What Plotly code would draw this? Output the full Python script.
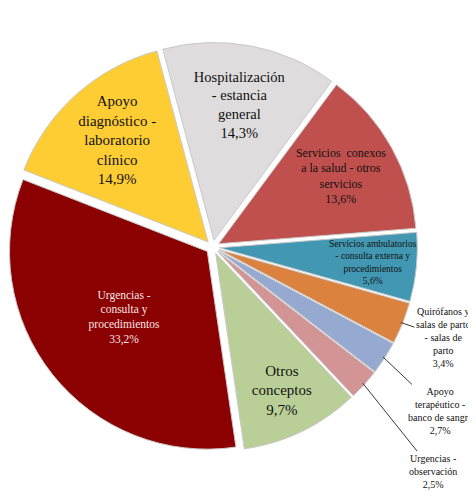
import math
import plotly.graph_objects as go

# Data (clockwise order, starting with Hospitalización)
categories = [
    "Hospitalización - estancia general",
    "Servicios conexos a la salud - otros servicios",
    "Servicios ambulatorios - consulta externa y procedimientos",
    "Quirófanos y salas de parto - salas de parto",
    "Apoyo terapéutico - banco de sangre",
    "Urgencias - observación",
    "Otros conceptos",
    "Urgencias - consulta y procedimientos",
    "Apoyo diagnóstico - laboratorio clínico",
]
label_lines = [
    "Hospitalización<br>- estancia<br>general",
    "Servicios  conexos<br>a la salud - otros<br>servicios",
    "Servicios ambulatorios<br>- consulta externa y<br>procedimientos",
    "Quirófanos y<br>salas de parto<br>- salas de<br>parto",
    "Apoyo<br>terapéutico -<br>banco de sangre",
    "Urgencias -<br>observación",
    "Otros<br>conceptos",
    "Urgencias -<br>consulta y<br>procedimientos",
    "Apoyo<br>diagnóstico -<br>laboratorio<br>clínico",
]
shares = [14.3, 13.6, 5.6, 3.4, 2.7, 2.5, 9.7, 33.2, 14.9]

# Styling
colors = ["#DEDCDC", "#C0504D", "#4298B3", "#DA823E", "#95A9D1",
          "#D29494", "#BACF97", "#8B0000", "#FECD34"]
# how each slice's label is drawn: pie-native inside text, or annotation
label_mode = ["inside", "inside", "note", "callout", "callout", "callout",
              "inside", "inside", "inside"]
text_sizes = [14.5, 12, 9.5, 10, 10, 10, 15, 11.5, 15]
text_colors = ["#111111", "#111111", "#111111", "#111111", "#111111",
               "#111111", "#111111", "#F6E6E6", "#111111"]
FONT = "Liberation Serif"

W, H = 476, 496
DOM_X = [0.0, 0.86]
DOM_Y = [0.036, 1.0]
PULL = 0.035
ROTATION = -15

# callout label centres (figure pixels from top-left)
callout_pos = {3: (435, 329), 4: (432, 403), 5: (425, 463)}

text_pos = ["inside" if m == "inside" else "none" for m in label_mode]

fig = go.Figure(go.Pie(
    labels=categories,
    values=shares,
    text=label_lines,
    texttemplate="%{text}<br>%{value:.1f}%",
    hovertemplate="%{label}: %{value:.1f}%<extra></extra>",
    sort=False,
    direction="clockwise",
    rotation=ROTATION,
    pull=PULL,
    marker=dict(colors=colors, line=dict(color="#C9C9C9", width=1)),
    textposition=text_pos,
    insidetextorientation="horizontal",
    textfont=dict(family=FONT, size=text_sizes, color=text_colors),
    insidetextfont=dict(family=FONT, size=text_sizes, color=text_colors),
    domain=dict(x=DOM_X, y=DOM_Y),
    automargin=False,
))

# Pie geometry, as Plotly computes it (used to attach the annotations)
box_w = W * (DOM_X[1] - DOM_X[0])
box_h = H * (DOM_Y[1] - DOM_Y[0])
cx = W * (DOM_X[0] + DOM_X[1]) / 2
cy = H * (1 - (DOM_Y[0] + DOM_Y[1]) / 2)
r = min(box_w, box_h) / (2 * (1 + PULL))
total = sum(shares)

annotations = []
cum = 0.0
for i, v in enumerate(shares):
    mid = math.radians(ROTATION + 360 * (cum + v / 2) / total)
    cum += v
    txt = f"{label_lines[i]}<br>{v:.1f}%".replace(".", ",")
    if label_mode[i] == "note":
        rr = r * (PULL + 0.78)
        px, py = cx + rr * math.sin(mid), cy - rr * math.cos(mid)
        annotations.append(dict(
            x=px / W, y=1 - py / H, xref="paper", yref="paper",
            xanchor="center", yanchor="middle",
            text=txt, showarrow=False, align="center",
            font=dict(family=FONT, size=text_sizes[i], color=text_colors[i]),
        ))
    elif label_mode[i] == "callout":
        rr = r * (1 + PULL) - 2
        tx, ty = cx + rr * math.sin(mid), cy - rr * math.cos(mid)
        lx, ly = callout_pos[i]
        annotations.append(dict(
            x=tx / W, y=1 - ty / H, xref="paper", yref="paper",
            ax=lx - tx, ay=ly - ty,
            text=txt, showarrow=True, arrowhead=0, arrowwidth=0.9,
            arrowcolor="#222222", align="center",
            font=dict(family=FONT, size=text_sizes[i], color=text_colors[i]),
        ))

fig.update_layout(
    width=W,
    height=H,
    margin=dict(l=0, r=0, t=0, b=0),
    paper_bgcolor="white",
    showlegend=False,
    separators=",.",
    font=dict(family=FONT),
    annotations=annotations,
)

fig.write_html("out.html")
